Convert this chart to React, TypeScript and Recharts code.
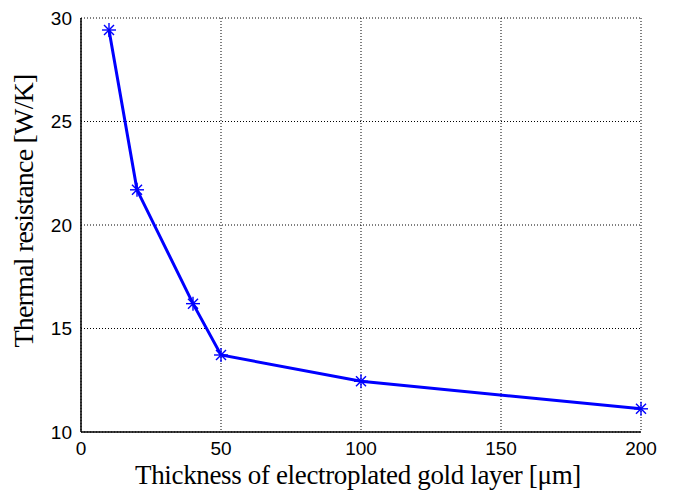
import { LineChart, Line, XAxis, YAxis, CartesianGrid } from 'recharts';

// values
const thickness = [10, 20, 40, 50, 100, 200];
const resistance = [29.42, 21.7, 16.2, 13.72, 12.45, 11.12];
const xTicks = [0, 50, 100, 150, 200];
const yTicks = [10, 15, 20, 25, 30];

const data = thickness.map((t, i) => ({ t, r: resistance[i] }));

const serif = '"Liberation Serif", "Times New Roman", serif';
const sans = '"Liberation Sans", Arial, sans-serif';

// matlab-style asterisk marker
const Star = (props: any) => {
  const { cx, cy } = props;
  if (cx == null || cy == null) return null;
  const s = 7;
  const d = 5;
  return (
    <g stroke="#0000ff" strokeWidth={1.4}>
      <line x1={cx - s} y1={cy} x2={cx + s} y2={cy} />
      <line x1={cx} y1={cy - s} x2={cx} y2={cy + s} />
      <line x1={cx - d} y1={cy - d} x2={cx + d} y2={cy + d} />
      <line x1={cx - d} y1={cy + d} x2={cx + d} y2={cy - d} />
    </g>
  );
};

const yLabel = () => (
  <text
    x={33}
    y={211}
    transform="rotate(-90, 33, 211)"
    textAnchor="middle"
    fill="#000"
    fontSize={28}
    fontFamily={serif}
    letterSpacing={-0.8}
  >
    Thermal resistance [W/K]
  </text>
);

const App = () => {
  return (
    <div style={{ position: 'absolute', left: 0, top: 0, background: '#fff' }}>
      <LineChart
        width={674}
        height={495}
        data={data}
        margin={{ top: 18, right: 33, left: 0, bottom: 0 }}
      >
        <CartesianGrid stroke="#000" strokeDasharray="1 2" strokeWidth={1} />
        <XAxis
          dataKey="t"
          type="number"
          domain={[0, 200]}
          ticks={xTicks}
          height={63}
          tickLine={false}
          tickSize={0}
          tickMargin={10}
          axisLine={{ stroke: '#000', strokeWidth: 1.5 }}
          tick={{ fill: '#000', fontSize: 19, fontFamily: sans }}
          label={{
            value: 'Thickness of electroplated gold layer [μm]',
            position: 'insideBottom',
            offset: 11,
            dx: -3,
            style: { fill: '#000', fontSize: 27, fontFamily: serif, letterSpacing: -0.35 },
          }}
        />
        <XAxis
          xAxisId="top"
          orientation="top"
          type="number"
          domain={[0, 200]}
          height={0}
          tick={false}
          tickLine={false}
          axisLine={{ stroke: '#000', strokeWidth: 1.5 }}
        />
        <YAxis
          type="number"
          domain={[10, 30]}
          ticks={yTicks}
          width={81}
          tickLine={false}
          tickSize={0}
          tickMargin={9}
          axisLine={{ stroke: '#000', strokeWidth: 1.5 }}
          tick={{ fill: '#000', fontSize: 19, fontFamily: sans }}
          label={{ content: yLabel }}
        />
        <YAxis
          yAxisId="right"
          orientation="right"
          type="number"
          domain={[10, 30]}
          width={0}
          tick={false}
          tickLine={false}
          axisLine={{ stroke: '#000', strokeWidth: 1.5 }}
        />
        <Line
          dataKey="r"
          stroke="#0000ff"
          strokeWidth={3}
          dot={<Star />}
          activeDot={false}
          isAnimationActive={false}
        />
      </LineChart>
    </div>
  );
};

export default App;
